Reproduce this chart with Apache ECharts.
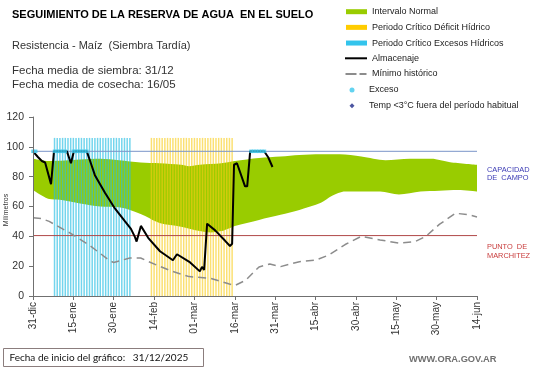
<!DOCTYPE html>
<html><head><meta charset="utf-8">
<script src="https://cdn.jsdelivr.net/npm/echarts@6/dist/echarts.min.js"></script>
<style>html,body{margin:0;padding:0;background:#fff}#c{width:541px;height:368px}</style>
</head><body><div id="c"></div>
<script>
// ---- data (days counted from 31-dic) ----
const tickLabels = ['31-dic','15-ene','30-ene','14-feb','01-mar','16-mar','31-mar','15-abr','30-abr','15-may','30-may','14-jun'];
const capacidadCampo = 97;
const puntoMarchitez = 40.5;
const periodoAltura = 106;

const normalAltoDias = [0,6,17.5,25,32,40,47,55,58,62,70,75,84,92,99,107,114,122,131,140,148,155,165];
const normalAltoVal  = [92,90.5,91.5,92,91,89.5,89,88,87,88,89,90.5,92.5,93.5,94.5,95,95,93.5,91,92,92,89.7,88];
const normalBajoDias = [0,6,10,17.5,25,32,40,47,55,62,66,70,73,75,84,92,99,107,111,116,122,129,136,144,151,158,165];
const normalBajoVal  = [71,65,64.5,62,60,59.5,55,49,46.5,43.5,42.5,43.5,45.5,47,51,54.4,57.7,62.5,67,70,70,70,68,70,70.5,71,70];

const minimoDias = [0,3,6,14,21,28.6,30,36,40,43,51,58,66,73,75,79,84,88,92,99,105,110,116,122,129,136,142,146,151,157,162,165];
const minimoVal  = [52.5,52,50,42,34,23.5,22.5,25.5,25.5,23,17,13,11.8,8,7,10.5,19.5,21.5,19.7,23,24,27.5,34.5,40,37.6,35.4,36.5,40,48,55.5,54.4,53];

const almDias = [0,1.9,3.3,4.5,6.7,7.8,12.6,14.1,15.2,20,21.5,23,26.8,30.5,34.2,36.4,37.9,38.5,40.1,42.8,47.2,52,53.5,58.4,62,62.8,63.6,64.7,67.7,71.4,73.2,74,74.7,75.8,78.8,79.6,80.7,85.9,87.4,89];
const almVal  = [97,93,90.5,89.5,75,97,97,89,97,97,89,81,69,58.5,50,45,39.5,36.5,47,39,30,24,28,22.5,16.5,19.5,17.5,48.5,44,37,33.5,35,88,89,73.5,73.5,97,97,93,86.5];

const excesoDias = [0,1,8,9,10,11,12,15,16,17,18,19,20,81,82,83,84,85,86];
const excesoVal  = [97,97,97,97,97,97,97,97,97,97,97,97,97,97,97,97,97,97,97];

const periodoExcesoDias  = [8,9,10,11,12,13,14,15,16,17,18,19,20,21,22,23,24,25,26,27,28,29,30,31,32,33,34,35,36];
const periodoDeficitDias = [44,45,46,47,48,49,50,51,52,53,54,55,56,57,58,59,60,61,62,63,64,65,66,67,68,69,70,71,72,73,74];

const tempFriaDias = [];
const tempFriaVal  = [];

// ---- helpers ----
const zip = (a, b) => a.map((d, i) => [d, b[i]]);
const FF = 'Liberation Sans, Arial, sans-serif';

const chart = echarts.init(document.getElementById('c'), null, {renderer: 'canvas'});
chart.setOption({
  animation: false,
  backgroundColor: '#ffffff',
  textStyle: {fontFamily: FF},
  title: [
    {text: 'SEGUIMIENTO DE LA RESERVA DE AGUA  EN EL SUELO', left: 12, top: 9, padding: 0,
     textStyle: {fontSize: 11, fontWeight: 'bold', color: '#000', fontFamily: FF}},
    {text: 'Resistencia - Maíz  (Siembra Tardía)', left: 12, top: 40, padding: 0,
     textStyle: {fontSize: 11, fontWeight: 'normal', color: '#333', fontFamily: FF}},
    {text: 'Fecha media de siembra: 31/12', left: 12, top: 64.5, padding: 0,
     textStyle: {fontSize: 11.5, fontWeight: 'normal', color: '#333', fontFamily: FF}},
    {text: 'Fecha media de cosecha: 16/05', left: 12, top: 78.5, padding: 0,
     textStyle: {fontSize: 11.5, fontWeight: 'normal', color: '#333', fontFamily: FF}}
  ],
  legend: [
    {orient: 'vertical', left: 346, top: 5.7, itemWidth: 21, itemHeight: 5, itemGap: 3.67,
     selectedMode: false, padding: 0,
     textStyle: {fontSize: 9, lineHeight: 12, color: '#222', fontFamily: FF},
     data: [
       {name: 'Intervalo Normal', icon: 'rect', itemStyle: {color: '#99cc00', opacity: 1}},
       {name: 'Periodo Crítico Déficit Hídrico', icon: 'rect', itemStyle: {color: '#ffcc00', opacity: 1, borderWidth: 0}},
       {name: 'Periodo Crítico Excesos Hídricos', icon: 'rect', itemStyle: {color: '#33c4ec', opacity: 1, borderWidth: 0}}
     ]},
    {orient: 'vertical', left: 345, top: 52.3, itemWidth: 22, itemHeight: 2, itemGap: 3.67,
     selectedMode: false, padding: 0,
     textStyle: {fontSize: 9, lineHeight: 12, color: '#222', fontFamily: FF},
     data: [
       {name: 'Almacenaje', icon: 'rect', itemStyle: {color: '#000', opacity: 1}},
       {name: 'Mínimo histórico', icon: 'path://M0,0h11v2h-11z M14,0h7v2h-7z', itemStyle: {color: '#8c8c8c', opacity: 1}}
     ]},
    {orient: 'vertical', left: 349.5, top: 84, itemWidth: 5, itemHeight: 5, itemGap: 3.67,
     selectedMode: false, padding: 0,
     textStyle: {fontSize: 9, lineHeight: 12, color: '#222', fontFamily: FF, padding: [0, 0, 0, 9.5]},
     data: [
       {name: 'Exceso', icon: 'circle', itemStyle: {color: '#3cc8ec'}},
       {name: 'Temp <3°C fuera del período habitual', icon: 'diamond', itemStyle: {color: '#1f2a8a'}}
     ]}
  ],
  grid: {left: 33, right: 64, top: 117, bottom: 72, containLabel: false, outerBoundsMode: 'none'},
  xAxis: {
    type: 'value', min: 0, max: 165, interval: 15, z: 10,
    axisLine: {show: true, lineStyle: {color: '#707070', width: 1}},
    axisTick: {show: true, length: 4, lineStyle: {color: '#707070'}},
    splitLine: {show: false},
    axisLabel: {rotate: 90, margin: 6, fontSize: 10, color: '#333', fontFamily: FF,
      formatter: v => tickLabels[Math.round(v / 15)] || ''}
  },
  yAxis: {
    type: 'value', min: 0, max: 120, interval: 20, z: 10,
    name: 'Milímetros', nameLocation: 'middle', nameGap: 23, nameRotate: 90, nameMoveOverlap: false,
    nameTextStyle: {fontSize: 7, color: '#333', fontFamily: FF, padding: [0, 7, 0, 0]},
    axisLine: {show: true, lineStyle: {color: '#707070', width: 1}},
    axisTick: {show: true, length: 4, lineStyle: {color: '#707070'}},
    splitLine: {show: false},
    axisLabel: {margin: 9, fontSize: 10.5, color: '#333', fontFamily: FF}
  },
  graphic: [
    {type: 'text', left: 487, top: 166, style: {text: 'CAPACIDAD\nDE  CAMPO', fill: '#3a3ab4', font: '7.4px ' + FF, lineHeight: 8.2}},
    {type: 'text', left: 487, top: 242.5, style: {text: 'PUNTO  DE\nMARCHITEZ', fill: '#c83c3c', font: '7.4px ' + FF, lineHeight: 9}},
    {type: 'rect', shape: {x: 3.5, y: 348.5, width: 200, height: 18}, style: {fill: '#fff', stroke: '#8b7d7d', lineWidth: 1}},
    {type: 'text', x: 9.5, y: 357.5, style: {text: 'Fecha de inicio del gráfico:   31/12/2025', fill: '#111', font: '10px Lato, "Open Sans", sans-serif', textVerticalAlign: 'middle'}},
    {type: 'text', x: 409, y: 359.5, style: {text: 'WWW.ORA.GOV.AR', fill: '#707070', font: 'bold 9.3px ' + FF, textVerticalAlign: 'middle'}}
  ],
  series: [
    {name: 'Intervalo Normal', type: 'line', data: zip(normalAltoDias, normalAltoVal), z: 1,
     color: '#99cc00', symbol: 'none', smooth: 0.3, silent: true,
     lineStyle: {width: 0, opacity: 0}, areaStyle: {color: '#99cc00', opacity: 1}},
    {name: 'normal-bajo', type: 'line', data: zip(normalBajoDias, normalBajoVal), z: 1,
     color: '#ffffff', symbol: 'none', smooth: 0.3, silent: true,
     lineStyle: {width: 0, opacity: 0}, areaStyle: {color: '#ffffff', opacity: 1}},
    {name: 'Periodo Crítico Déficit Hídrico', type: 'bar', data: periodoDeficitDias.map(d => [d, periodoAltura]),
     barWidth: 1.5, barGap: '-100%', z: 3, silent: true,
     itemStyle: {color: 'rgba(248,204,20,0.6)'}},
    {name: 'Periodo Crítico Excesos Hídricos', type: 'bar', data: periodoExcesoDias.map(d => [d, periodoAltura]),
     barWidth: 1.5, barGap: '-100%', z: 3, silent: true,
     itemStyle: {color: 'rgba(40,190,228,0.65)'}},
    {name: 'Capacidad de campo', type: 'line', data: [[0, capacidadCampo], [165, capacidadCampo]], z: 4,
     symbol: 'none', silent: true, lineStyle: {color: '#7a94c8', width: 1}},
    {name: 'Punto de marchitez', type: 'line', data: [[0, puntoMarchitez], [165, puntoMarchitez]], z: 4,
     symbol: 'none', silent: true, lineStyle: {color: '#b04848', width: 1}},
    {name: 'Mínimo histórico', type: 'line', data: zip(minimoDias, minimoVal), z: 5,
     symbol: 'none', color: '#8c8c8c', silent: true,
     lineStyle: {color: '#8c8c8c', width: 1.5, type: [8, 5]}},
    {name: 'Almacenaje', type: 'line', data: zip(almDias, almVal), z: 6,
     symbol: 'none', color: '#000', silent: true,
     lineStyle: {color: '#000', width: 2}},
    {name: 'Exceso', type: 'scatter', data: zip(excesoDias, excesoVal), z: 7,
     symbol: 'rect', symbolSize: [3.5, 3.5], silent: true, itemStyle: {color: '#3cc8ec'}},
    {name: 'Temp <3°C fuera del período habitual', type: 'scatter', data: zip(tempFriaDias, tempFriaVal), z: 7,
     symbol: 'diamond', symbolSize: 5, itemStyle: {color: '#1f2a8a'}}
  ]
});
</script></body></html>
